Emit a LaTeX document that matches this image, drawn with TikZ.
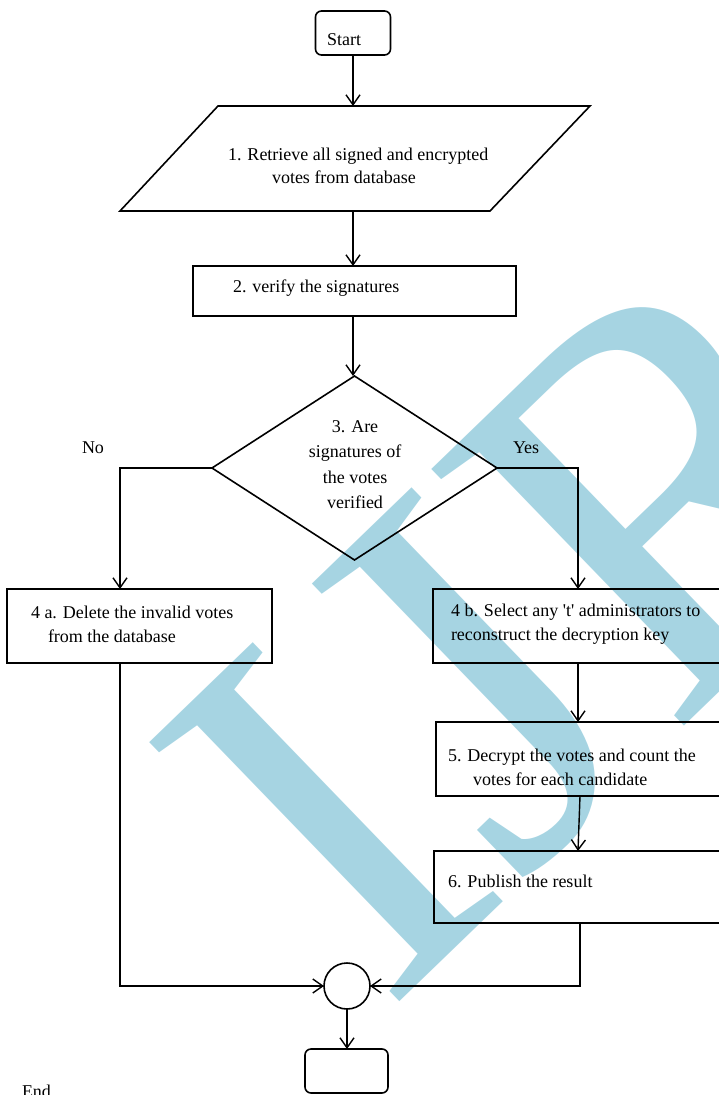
\documentclass[tikz,border=0pt]{standalone}
\usepackage{fontspec}
\setmainfont{Liberation Serif}
\usetikzlibrary{arrows.meta,shapes.geometric}
\definecolor{wmblue}{RGB}{166,212,226}
\begin{document}
\begin{tikzpicture}[x=1pt,y=-1pt,
  >={Straight Barb[length=10pt,width=14pt]},
  every node/.style={inner sep=0pt, outer sep=0pt},
  txt/.style={font=\fontsize{18}{24}\selectfont, anchor=base west},
  rbox/.style={draw, line width=1.6pt, rounded corners=6pt, minimum width=75pt, minimum height=44pt},
  sbox/.style={draw, line width=1.6pt, rectangle},
  conn/.style={->, line width=1.4pt},
  wmark/.style={text=wmblue, font=\fontsize{550}{550}\selectfont, rotate=44, anchor=base west}]
\useasboundingbox (0,0) rectangle (719,1095);
% watermark
\node[wmark] (wm) at (385,1015) {IJR};
% coordinates for branch lines
\coordinate (nox) at (120,468);
\coordinate (yesx) at (578,468);
\coordinate (rx) at (580,986);
% shapes
\node[rbox] (start) at (353,33) {};
\node[txt] (tstart) at (327,45) {Start};
\coordinate (p1n) at (353,106);
\coordinate (p1s) at (353,211);
\draw[line width=1.6pt] (218,106) -- (590,106) -- (490,211) -- (120,211) -- cycle;
\node[txt] (tp1a) at (228,160) {1. Retrieve all signed and encrypted};
\node[txt] (tp1b) at (272,183) {votes from database};
\node[sbox, minimum width=323pt, minimum height=50pt] (b2) at (354.5,291) {};
\node[txt] (tb2) at (233,292) {2. verify the signatures};
\node[draw, line width=1.6pt, diamond, minimum width=285pt, minimum height=184pt] (d3) at (354.5,468) {};
\node[font=\fontsize{18}{25.5}\selectfont, align=center, anchor=north] (td3) at (355,420.5)
  {3. Are\\signatures of\\the votes\\verified};
\node[txt] (tno) at (82,453) {No};
\node[txt] (tyes) at (513,453) {Yes};
\node[sbox, minimum width=265pt, minimum height=74pt] (b4a) at (139.5,626) {};
\node[txt] (t4a1) at (31,618) {4 a. Delete the invalid votes};
\node[txt] (t4a2) at (48,642) {from the database};
\node[sbox, minimum width=327pt, minimum height=74pt] (b4b) at (596.5,626) {};
\node[txt] (t4b1) at (451,616) {4 b. Select any \textquotesingle t\textquotesingle\ administrators to};
\node[txt] (t4b2) at (451,640) {reconstruct the decryption key};
\node[sbox, minimum width=324pt, minimum height=74pt] (b5) at (598,759) {};
\node[txt] (t51) at (448,761) {5. Decrypt the votes and count the};
\node[txt] (t52) at (473,785) {votes for each candidate};
\node[sbox, minimum width=326pt, minimum height=72pt] (b6) at (597,887) {};
\node[txt] (t6) at (448,887) {6. Publish the result};
\node[draw, line width=1.6pt, circle, minimum size=46pt] (c) at (347,986) {};
\node[rbox, minimum width=83pt] (end) at (346.5,1071) {};
\node[txt] (tend) at (22,1097) {End};
% connectors
\draw[conn] (start.south) -- (start.south |- p1n);
\draw[conn] (start.south |- p1s) -- (start.south |- b2.north);
\draw[conn] (start.south |- b2.south) -- (start.south |- d3.north);
\draw[conn] (d3.west) -| (b4a.north -| nox);
\draw[conn] (d3.east) -| (b4b.north -| yesx);
\draw[conn] (b4b.south -| yesx) -- (b5.north -| yesx);
\draw[conn] (b5.south -| rx) -- (b6.north -| yesx);
\draw[conn] (b4a.south -| nox) |- (c.west);
\draw[conn] (b6.south -| rx) |- (c.east);
\draw[conn] (c.south) -- (c.south |- end.north);
\end{tikzpicture}
\end{document}
